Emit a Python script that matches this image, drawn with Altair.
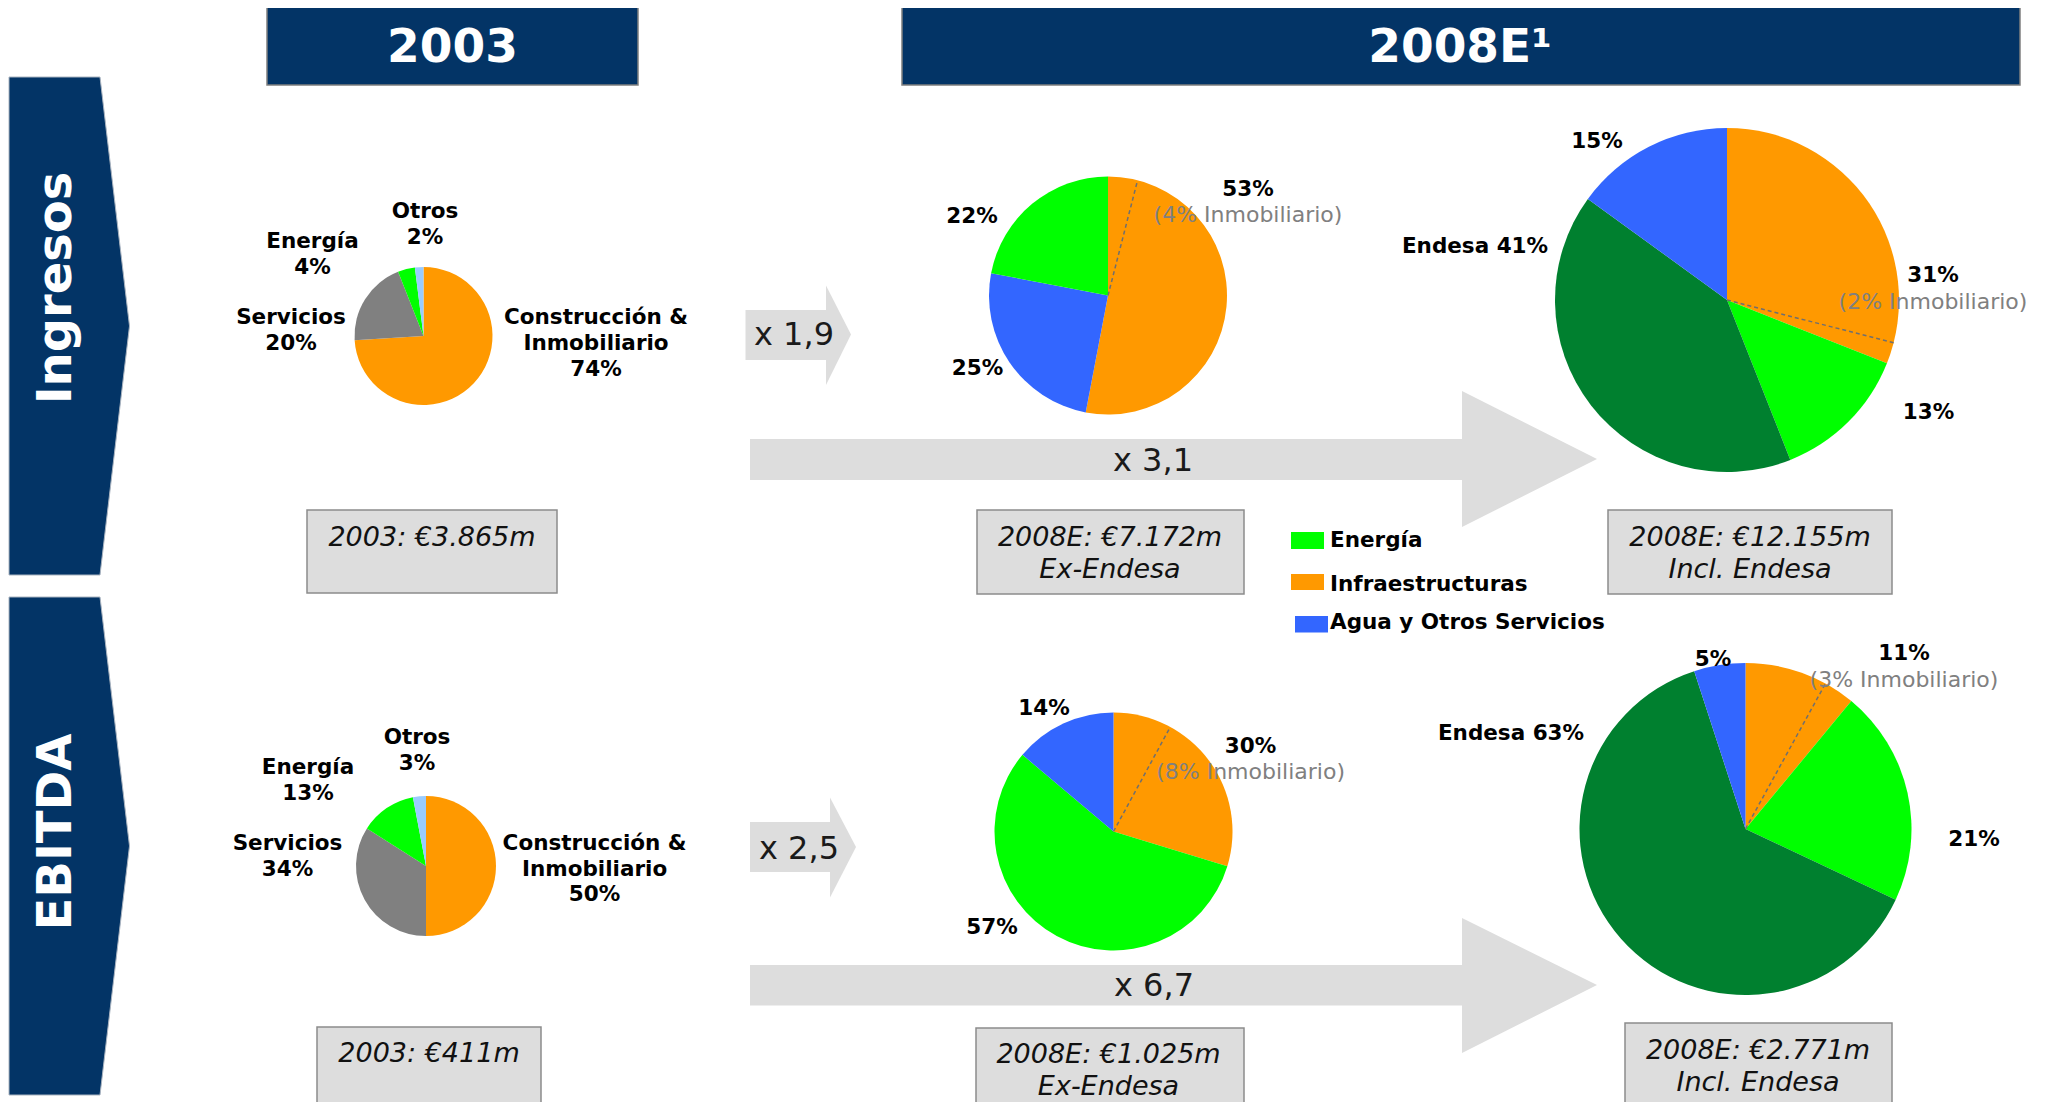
import math
import altair as alt
import pandas as pd

# ---------------- data ----------------
headers = ["2003", "2008E\u00b9"]
row_titles = ["Ingresos", "EBITDA"]

seg_2003 = ["Construcción & Inmobiliario", "Servicios", "Energía", "Otros"]
seg_2003_lines = [["Construcción &", "Inmobiliario"], ["Servicios"], ["Energía"], ["Otros"]]
ingresos_2003 = [74, 20, 4, 2]
ebitda_2003 = [50, 34, 13, 3]

ing_ex_seg = ["Infraestructuras", "Agua y Otros Servicios", "Energía"]
ing_ex_val = [53, 25, 22]
ing_incl_seg = ["Infraestructuras", "Energía", "Endesa", "Agua y Otros Servicios"]
ing_incl_val = [31, 13, 41, 15]
ebi_ex_seg = ["Infraestructuras", "Energía", "Agua y Otros Servicios"]
ebi_ex_val = [30, 57, 14]
ebi_incl_seg = ["Infraestructuras", "Energía", "Endesa", "Agua y Otros Servicios"]
ebi_incl_val = [11, 21, 63, 5]
inmobiliario = [4, 2, 8, 3]  # ingresos ex, ingresos incl, ebitda ex, ebitda incl

totals = [
    ["2003: €3.865m"],
    ["2008E: €7.172m", "Ex-Endesa"],
    ["2008E: €12.155m", "Incl. Endesa"],
    ["2003: €411m"],
    ["2008E: €1.025m", "Ex-Endesa"],
    ["2008E: €2.771m", "Incl. Endesa"],
]
multipliers = ["x 1,9", "x 3,1", "x 2,5", "x 6,7"]
legend_items = ["Energía", "Infraestructuras", "Agua y Otros Servicios"]

# ---------------- style ----------------
FONT = "DejaVu Sans"
NAVY = "#033466"
BOXGRAY = "#DDDDDD"
color_domain = ["Construcción & Inmobiliario", "Infraestructuras", "Servicios", "Energía",
                "Otros", "Agua y Otros Servicios", "Endesa"]
color_range = ["#FF9900", "#FF9900", "#808080", "#00FF00", "#99CCFF", "#3366FF", "#00802F"]
cscale = alt.Scale(domain=color_domain, range=color_range)

# ---------------- layout (page pixels) ----------------
OFF = 8
W, H = 2033, 1094
xs = alt.Scale(domain=[OFF, OFF + W], nice=False, zero=False)
ys = alt.Scale(domain=[OFF + H, OFF], nice=False, zero=False)

PIES = [(423.5, 336, 69), (1108, 295.5, 119), (1727, 300, 172),
        (426, 866, 70), (1113.5, 831.5, 119), (1745.5, 829, 166)]

LBL_2003_ING = [(596, 318), (291, 318), (312.5, 242), (425, 212)]
LBL_2003_EBI = [(594.6, 844), (287.5, 844), (308, 768), (417, 738)]
LBL_ING_EX = [(1248, 190), (977.5, 369), (972, 217)]
LBL_ING_INCL = [(1933, 275.7), (1928.5, 413), (1475, 247), (1597, 141.5)]
LBL_EBI_EX = [(1250.6, 746.5), (992, 928), (1044, 708.5)]
LBL_EBI_INCL = [(1904, 653.5), (1974, 840), (1511, 734), (1713, 660)]
INMOB_POS = [(1248, 214.5), (1933, 302), (1250.6, 772), (1904, 679.5)]

HEADER_BOX = [(267, 7, 638, 85), (902, 7, 2020, 85)]
HEADER_TXT = [(452.5, 48), (1460, 48)]
CHEVRONS = [(9, 100, 129.5, 77, 326, 575), (9, 100, 129.5, 597, 846, 1095)]
SIDE_TXT = [(57, 288), (57, 832)]
TOTAL_BOX = [(307, 510, 557, 593), (977, 510, 1244, 594), (1608, 510, 1892, 594),
             (317, 1027, 541, 1115), (976, 1028, 1244, 1115), (1625, 1023, 1892, 1108)]
TOTAL_TXT = [(432, 538), (1110, 537.5), (1750, 537.5), (429, 1054), (1108.5, 1054.5), (1758, 1051)]
ARROWS = [  # body x0, y0, x1, y1, head top, head bottom, tip x, tip y
    (745.5, 310, 826, 360, 285.5, 385, 851, 334.5),
    (750, 439, 1462, 480, 391, 527, 1597, 459),
    (750, 822, 830, 872, 797.5, 897.5, 856, 847),
    (750, 965, 1462, 1005.5, 918, 1053, 1597, 985),
]
MULT_TXT = [(794, 335), (1153, 461), (799, 849), (1154, 986)]
LEGEND_SQ = [(1291, 532, 1324, 549), (1291, 574, 1324, 590), (1295, 616, 1328, 632.5)]
LEGEND_TXT_Y = [541, 584.5, 622.5]
LEGEND_TXT_X = 1330


def X(f):
    return alt.X(f, scale=xs, axis=None)


def Y(f):
    return alt.Y(f, scale=ys, axis=None)


def text_layer(rows, **kw):
    return alt.Chart(pd.DataFrame(rows)).mark_text(font=FONT, **kw).encode(
        x=X("x:Q"), y=Y("y:Q"), text="t:N")


def rect_layer(rows, **kw):
    return alt.Chart(pd.DataFrame(rows, columns=["x", "y", "x2", "y2"])).mark_rect(**kw).encode(
        x=X("x:Q"), x2="x2:Q", y=Y("y:Q"), y2="y2:Q")


def pie_layer(segs, vals, pos):
    cx, cy, r = pos
    df = pd.DataFrame({"seg": segs, "val": vals, "idx": list(range(len(segs)))})
    return alt.Chart(df).mark_arc(outerRadius=r).encode(
        theta=alt.Theta("val:Q", stack=True),
        order=alt.Order("idx:Q"),
        color=alt.Color("seg:N", scale=cscale, legend=None),
        x=alt.value(cx - OFF), y=alt.value(cy - OFF))


layers = []

# chevrons (row titles)
chev_rows = []
for g, (xl, xr, xt, yt, ym, yb) in enumerate(CHEVRONS):
    chev_rows += [{"g": g, "y": yt, "x": xl, "x2": xr},
                  {"g": g, "y": ym, "x": xl, "x2": xt},
                  {"g": g, "y": yb, "x": xl, "x2": xr}]
layers.append(alt.Chart(pd.DataFrame(chev_rows)).mark_area(
    orient="horizontal", color=NAVY, stroke="#aab4c0", strokeWidth=1).encode(
    y=Y("y:Q"), x=alt.X("x:Q", scale=xs, axis=None, stack=False), x2="x2:Q", detail="g:N"))
layers.append(text_layer([{"t": t, "x": p[0], "y": p[1]} for t, p in zip(row_titles, SIDE_TXT)],
                         fontSize=48, fontWeight="bold", color="white", angle=270,
                         align="center", baseline="middle"))

# headers
layers.append(rect_layer(HEADER_BOX, fill=NAVY, stroke="#7f7f7f", strokeWidth=1.5))
layers.append(text_layer([{"t": t, "x": p[0], "y": p[1]} for t, p in zip(headers, HEADER_TXT)],
                         fontSize=47, fontWeight="bold", color="white",
                         align="center", baseline="middle"))

# arrows
layers.append(rect_layer([a[:4] for a in ARROWS], fill=BOXGRAY))
head_rows = []
for g, a in enumerate(ARROWS):
    head_rows += [{"g": g, "x": a[2], "y": a[4], "y2": a[5]},
                  {"g": g, "x": a[6], "y": a[7], "y2": a[7]}]
layers.append(alt.Chart(pd.DataFrame(head_rows)).mark_area(orient="vertical", color=BOXGRAY).encode(
    x=X("x:Q"), y=alt.Y("y:Q", scale=ys, axis=None, stack=False), y2="y2:Q", detail="g:N"))
layers.append(text_layer([{"t": t, "x": p[0], "y": p[1]} for t, p in zip(multipliers, MULT_TXT)],
                         fontSize=32, color="#1a1a1a", align="center", baseline="middle"))

# total boxes
layers.append(rect_layer(TOTAL_BOX, fill=BOXGRAY, stroke="#8c8c8c", strokeWidth=1.5))
tot_rows = []
for lines, (x, y) in zip(totals, TOTAL_TXT):
    for i, s in enumerate(lines):
        tot_rows.append({"t": s, "x": x, "y": y + i * 32})
layers.append(text_layer(tot_rows, fontSize=27, fontStyle="italic", color="#111111",
                         align="center", baseline="middle"))

# pies
pie_data = [(seg_2003, ingresos_2003), (ing_ex_seg, ing_ex_val), (ing_incl_seg, ing_incl_val),
            (seg_2003, ebitda_2003), (ebi_ex_seg, ebi_ex_val), (ebi_incl_seg, ebi_incl_val)]
for (segs, vals), pos in zip(pie_data, PIES):
    layers.append(pie_layer(segs, vals, pos))

# dashed "Inmobiliario" split lines (fraction of the full circle, measured clockwise from 12 o'clock)
dash_fracs = [
    inmobiliario[0] / sum(ing_ex_val),
    (ing_incl_val[0] - inmobiliario[1]) / sum(ing_incl_val),
    inmobiliario[2] / sum(ebi_ex_val),
    (ebi_incl_val[0] - inmobiliario[3]) / sum(ebi_incl_val),
]
dash_rows = []
for frac, (cx, cy, r) in zip(dash_fracs, [PIES[1], PIES[2], PIES[4], PIES[5]]):
    a = 2 * math.pi * frac
    dash_rows.append({"x": cx, "y": cy, "x2": cx + r * math.sin(a), "y2": cy - r * math.cos(a)})
layers.append(alt.Chart(pd.DataFrame(dash_rows)).mark_rule(
    color="#6f6f6f", strokeDash=[4, 3], strokeWidth=1.5).encode(
    x=X("x:Q"), y=Y("y:Q"), x2="x2:Q", y2="y2:Q"))

# pie labels
lbl_rows = []
for lines_list, vals, poss, dy in [(seg_2003_lines, ingresos_2003, LBL_2003_ING, 26),
                                   (seg_2003_lines, ebitda_2003, LBL_2003_EBI, 25.5)]:
    for lines, v, (x, y) in zip(lines_list, vals, poss):
        for i, s in enumerate(lines + [f"{v}%"]):
            lbl_rows.append({"t": s, "x": x, "y": y + i * dy})
for segs, vals, poss in [(ing_ex_seg, ing_ex_val, LBL_ING_EX), (ing_incl_seg, ing_incl_val, LBL_ING_INCL),
                         (ebi_ex_seg, ebi_ex_val, LBL_EBI_EX), (ebi_incl_seg, ebi_incl_val, LBL_EBI_INCL)]:
    for s, v, (x, y) in zip(segs, vals, poss):
        t = f"Endesa {v}%" if s == "Endesa" else f"{v}%"
        lbl_rows.append({"t": t, "x": x, "y": y})
layers.append(text_layer(lbl_rows, fontSize=21.5, fontWeight="bold", color="#000000",
                         align="center", baseline="middle"))
layers.append(text_layer([{"t": f"({v}% Inmobiliario)", "x": p[0], "y": p[1]}
                          for v, p in zip(inmobiliario, INMOB_POS)],
                         fontSize=22, color="#808080", align="center", baseline="middle"))

# legend
leg_df = pd.DataFrame([{"seg": s, "x": q[0], "y": q[1], "x2": q[2], "y2": q[3]}
                       for s, q in zip(legend_items, LEGEND_SQ)])
layers.append(alt.Chart(leg_df).mark_rect().encode(
    x=X("x:Q"), x2="x2:Q", y=Y("y:Q"), y2="y2:Q",
    color=alt.Color("seg:N", scale=cscale, legend=None)))
layers.append(text_layer([{"t": s, "x": LEGEND_TXT_X, "y": y} for s, y in zip(legend_items, LEGEND_TXT_Y)],
                         fontSize=21.5, fontWeight="bold", color="#000000",
                         align="left", baseline="middle"))

chart = alt.layer(*layers).resolve_scale(theta="independent").properties(
    width=W, height=H, autosize=alt.AutoSizeParams(type="none"), padding=0
).configure_view(stroke=None)

chart.save("out.html", embed_options={"renderer": "svg", "actions": False})
